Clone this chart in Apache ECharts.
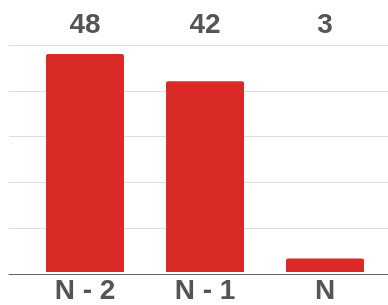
<!DOCTYPE html>
<html><head><meta charset="utf-8">
<script src="https://cdn.jsdelivr.net/npm/echarts@6/dist/echarts.min.js"></script>
<style>html,body{margin:0;padding:0;background:#fff}#c{width:388px;height:305px}</style>
</head><body><div id="c"></div>
<script>
const categories = ['N - 2', 'N - 1', 'N'];
const values = [48, 42, 3];
const yTicks = [0, 10, 20, 30, 40, 50];

const chart = echarts.init(document.getElementById('c'), null, {renderer: 'canvas'});
const font = 'Liberation Sans, Arial, sans-serif';
chart.setOption({
  animation: false,
  grid: [
    {left: 9, right: 0, top: 45, bottom: 31},
    {left: 25, right: 3, top: 45, bottom: 31}
  ],
  xAxis: [
    {gridIndex: 0, type: 'category', data: categories, axisLine: {show: true, lineStyle: {color: '#666', width: 1}}, axisTick: {show: false}, axisLabel: {show: false}},
    {gridIndex: 1, type: 'category', data: categories, axisLine: {show: false}, axisTick: {show: false},
      axisLabel: {color: '#555', fontSize: 28, fontWeight: 'bold', fontFamily: font, margin: 5}},
    {gridIndex: 1, type: 'category', position: 'top', data: values.map(String), axisLine: {show: false}, axisTick: {show: false},
      axisLabel: {color: '#555', fontSize: 28, fontWeight: 'bold', fontFamily: font, margin: 6}}
  ],
  yAxis: [
    {gridIndex: 0, type: 'value', min: yTicks[0], max: yTicks[yTicks.length-1], interval: 10, axisLabel: {show: false}, axisLine: {show: false}, axisTick: {show: false}, splitLine: {lineStyle: {color: '#dddddd'}}},
    {gridIndex: 1, type: 'value', min: yTicks[0], max: yTicks[yTicks.length-1], interval: 10, axisLabel: {show: false}, axisLine: {show: false}, axisTick: {show: false}, splitLine: {show: false}}
  ],
  series: [{
    type: 'bar', xAxisIndex: 1, yAxisIndex: 1, data: values, barWidth: 78,
    itemStyle: {color: '#d92a27', borderRadius: [2, 2, 0, 0]}
  }]
});
</script></body></html>
